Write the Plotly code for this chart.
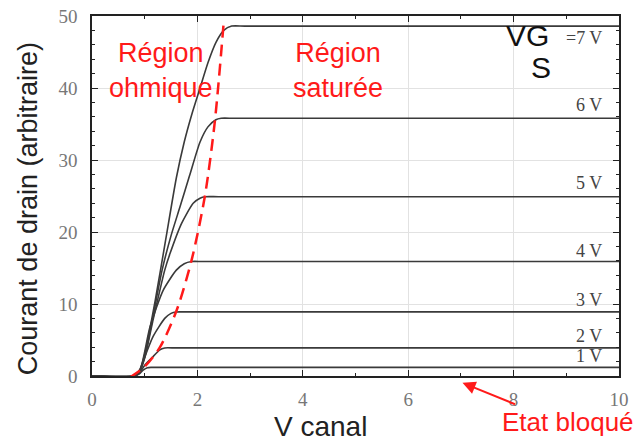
import plotly.graph_objects as go

# ---- data ----
vgs_labels = ["=7 V", "6 V", "5 V", "4 V", "3 V", "2 V", "1 V"]
label_y = [46.9, 37.7, 26.8, 17.4, 10.6, 5.6, 2.8]

v7_x = [0, 0.8, 0.9, 1.0, 1.2, 1.4, 1.6, 1.75, 1.9, 2.05, 2.2, 2.35, 2.5, 2.65, 2.9, 10]
v7_y = [0, 0, 0.8, 3.0, 10.5, 19.0, 27.5, 32.5, 36.5, 40.0, 43.5, 46.3, 48.0, 48.6, 48.6, 48.6]
v6_x = [0, 0.8, 0.9, 1.0, 1.15, 1.33, 1.5, 1.67, 1.85, 2.05, 2.2, 2.35, 2.45, 2.7, 10]
v6_y = [0, 0, 0.7, 2.7, 8.0, 14.7, 19.5, 23.5, 27.8, 32.5, 34.6, 35.6, 35.8, 35.8, 35.8]
v5_x = [0, 0.8, 0.9, 1.0, 1.15, 1.38, 1.48, 1.7, 1.92, 2.05, 2.15, 2.4, 10]
v5_y = [0, 0, 0.6, 2.5, 7.5, 14.7, 17.0, 21.2, 24.0, 24.7, 24.9, 24.9, 24.9]
v4_x = [0, 0.8, 0.9, 1.1, 1.35, 1.6, 1.75, 1.89, 2.1, 10]
v4_y = [0, 0, 0.5, 6.8, 11.9, 14.7, 15.6, 15.9, 15.9, 15.9]
v3_x = [0, 0.8, 0.9, 1.0, 1.16, 1.38, 1.5, 1.6, 1.8, 10]
v3_y = [0, 0, 0.5, 2.6, 5.5, 8.0, 8.7, 8.9, 8.9, 8.9]
v2_x = [0, 0.8, 0.9, 1.0, 1.16, 1.28, 1.38, 1.6, 10]
v2_y = [0, 0, 0.4, 1.5, 2.7, 3.6, 3.9, 3.9, 3.9]
v1_x = [0, 0.8, 0.9, 0.97, 1.05, 1.12, 1.3, 10]
v1_y = [0, 0, 0.3, 0.8, 1.15, 1.2, 1.2, 1.2]

sat_x = [0.72, 1.0, 1.29, 1.61, 1.89, 2.14, 2.33, 2.5]
sat_y = [-0.2, 1.3, 4.0, 9.2, 16.1, 24.9, 35.3, 49.2]

x_ticks = [0, 2, 4, 6, 8, 10]
y_ticks = [0, 10, 20, 30, 40, 50]

curves = [(v7_x, v7_y), (v6_x, v6_y), (v5_x, v5_y), (v4_x, v4_y),
          (v3_x, v3_y), (v2_x, v2_y), (v1_x, v1_y)]

fig = go.Figure()
for cx, cy in curves:
    fig.add_trace(go.Scatter(x=cx, y=cy, mode="lines",
                             line=dict(color="#3a3a3a", width=1.6, shape="spline", smoothing=0.6),
                             showlegend=False, hoverinfo="skip"))

fig.add_trace(go.Scatter(x=sat_x, y=sat_y, mode="lines",
                         line=dict(color="#ff1a1a", width=2.5, dash="12px,7px", shape="spline", smoothing=0.8),
                         showlegend=False, hoverinfo="skip", cliponaxis=False))

serif = "Liberation Serif, Times New Roman, serif"
sans = "Liberation Sans, Arial, sans-serif"
red = "#ff1a1a"

ann = []
for lab, ly in zip(vgs_labels, label_y):
    ann.append(dict(x=9.72, y=ly, xref="x", yref="y", text=lab, showarrow=False,
                    xanchor="right", yanchor="middle",
                    font=dict(family=serif, size=18, color="#444")))

def txt(x, y, text, size, color, ref="data", angle=0):
    r = ("x", "y") if ref == "data" else ("paper", "paper")
    return dict(x=x, y=y, xref=r[0], yref=r[1], text=text, showarrow=False,
                xanchor="center", yanchor="middle", textangle=angle,
                font=dict(family=sans, size=size, color=color))

ann += [
    txt(1.30, 42.5, "Région<br>ohmique", 27, red),
    txt(4.67, 42.5, "Région<br>saturée", 27, red),
    txt(8.27, 47.3, "VG", 30, "#111"),
    txt(8.52, 42.8, "S", 30, "#111"),
    dict(x=0.703, y=-0.019, xref="paper", yref="paper", text="", showarrow=True,
         ax=54, ay=22, arrowhead=2, arrowsize=1.3, arrowwidth=2, arrowcolor=red),
    txt(0.903, -0.128, "Etat bloqué", 26, red, ref="paper"),
    txt(0.433, -0.14, "V canal", 28, "#222", ref="paper"),
    txt(-0.121, 0.464, "Courant de drain (arbitraire)", 27, "#222", ref="paper", angle=-90),
]

axis_common = dict(
    showline=True, linecolor="#222", linewidth=1.5, mirror="ticks",
    ticks="inside", ticklen=6, tickwidth=1.3, tickcolor="#222",
    showgrid=True, gridcolor="#e2e2e2", gridwidth=1, zeroline=False,
    ticklabeloverflow="allow", automargin=False,
    tickfont=dict(family=serif, size=19, color="#777"),
)

# the page body has an 8px margin, so the figure is 8px smaller and margins shifted
fig.update_layout(
    width=635, height=435,
    margin=dict(l=84, r=24, t=8, b=67, autoexpand=False),
    paper_bgcolor="white", plot_bgcolor="white",
    xaxis=dict(range=[0, 10], tickvals=x_ticks, ticklabelstandoff=5,
               minor=dict(dtick=1, ticks="inside", ticklen=3, tickcolor="#222", showgrid=False),
               **axis_common),
    yaxis=dict(range=[0, 50], tickvals=y_ticks, ticklabelstandoff=9,
               minor=dict(dtick=2, ticks="inside", ticklen=3, tickcolor="#222", showgrid=False),
               **axis_common),
    annotations=ann,
)

fig.write_html("out.html")
